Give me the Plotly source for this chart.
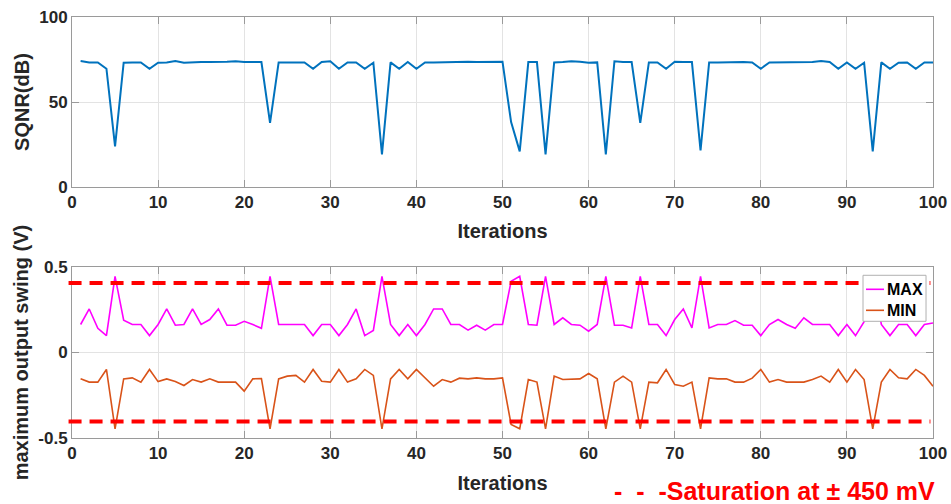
import plotly.graph_objects as go

# ---------------- data ----------------
iterations = list(range(1, 101))

sqnr_db = [74.1, 73.3, 73.3, 69.6, 23.9, 73.1, 73.3, 73.3, 69.6, 73.1,
           73.3, 74.1, 73.1, 73.5, 73.5, 73.5, 73.5, 73.7, 74.0, 73.5,
           73.5, 73.5, 37.8, 73.3, 73.3, 73.3, 73.3, 69.6, 73.5, 74.0,
           69.6, 73.3, 73.3, 69.6, 73.1, 19.2, 73.3, 69.6, 73.5, 69.6,
           73.3, 73.3, 73.5, 73.5, 73.7, 73.7, 73.5, 73.5, 73.7, 73.7,
           38.2, 21.0, 73.5, 73.5, 19.2, 73.3, 73.5, 74.0, 73.7, 73.1,
           73.3, 19.2, 74.0, 73.5, 73.5, 37.8, 73.3, 73.3, 69.6, 73.7,
           73.5, 73.5, 21.6, 73.3, 73.3, 73.5, 73.7, 73.5, 73.3, 69.6,
           73.3, 73.3, 73.5, 73.5, 73.7, 73.5, 74.1, 73.5, 69.6, 73.3,
           69.6, 73.1, 21.0, 73.3, 69.6, 73.1, 73.3, 69.6, 73.3, 73.3]

max_swing = [0.164, 0.255, 0.142, 0.099, 0.446, 0.189, 0.164, 0.164, 0.099, 0.164,
             0.255, 0.160, 0.164, 0.255, 0.164, 0.193, 0.255, 0.160, 0.160, 0.183,
             0.164, 0.142, 0.446, 0.164, 0.164, 0.164, 0.164, 0.099, 0.164, 0.164,
             0.099, 0.164, 0.255, 0.099, 0.129, 0.446, 0.164, 0.099, 0.164, 0.099,
             0.164, 0.255, 0.255, 0.164, 0.164, 0.131, 0.160, 0.131, 0.164, 0.164,
             0.417, 0.446, 0.164, 0.160, 0.446, 0.164, 0.203, 0.164, 0.160, 0.125,
             0.164, 0.446, 0.160, 0.160, 0.144, 0.446, 0.164, 0.164, 0.099, 0.193,
             0.255, 0.144, 0.446, 0.144, 0.164, 0.164, 0.187, 0.160, 0.160, 0.099,
             0.164, 0.193, 0.164, 0.142, 0.203, 0.164, 0.164, 0.164, 0.099, 0.164,
             0.099, 0.180, 0.446, 0.164, 0.099, 0.164, 0.164, 0.099, 0.164, 0.173]

min_swing = [-0.154, -0.173, -0.173, -0.099, -0.446, -0.154, -0.148, -0.173, -0.099, -0.170,
             -0.154, -0.170, -0.193, -0.158, -0.173, -0.154, -0.173, -0.173, -0.173, -0.226,
             -0.154, -0.152, -0.446, -0.154, -0.138, -0.134, -0.173, -0.099, -0.168, -0.173,
             -0.099, -0.173, -0.154, -0.099, -0.134, -0.446, -0.154, -0.099, -0.154, -0.099,
             -0.148, -0.197, -0.158, -0.173, -0.150, -0.154, -0.148, -0.154, -0.154, -0.148,
             -0.421, -0.446, -0.158, -0.173, -0.446, -0.138, -0.158, -0.158, -0.154, -0.123,
             -0.154, -0.446, -0.173, -0.138, -0.173, -0.446, -0.173, -0.177, -0.099, -0.187,
             -0.197, -0.173, -0.446, -0.148, -0.154, -0.154, -0.173, -0.173, -0.150, -0.099,
             -0.173, -0.158, -0.173, -0.173, -0.173, -0.158, -0.138, -0.173, -0.099, -0.173,
             -0.099, -0.158, -0.446, -0.173, -0.099, -0.148, -0.154, -0.099, -0.134, -0.197]

saturation_levels = [0.407, -0.403]
legend_names = ["MAX", "MIN"]
x_ticks = [0, 10, 20, 30, 40, 50, 60, 70, 80, 90, 100]
sqnr_ticks = [0, 50, 100]
swing_ticks = [-0.5, 0, 0.5]
swing_tick_text = ["-0.5", "0", "0.5"]

# ---------------- style ----------------
FONT = "Liberation Sans, Arial, sans-serif"
TXT = "#262626"
AX = "#9a9a9a"
GRID = "#e3e3e3"
C_SQNR = "#0072BD"
C_MAX = "#FF00FF"
C_MIN = "#D95319"

fig = go.Figure()
fig.add_trace(go.Scatter(x=iterations, y=sqnr_db, mode="lines", xaxis="x", yaxis="y",
                         line=dict(color=C_SQNR, width=2), showlegend=False))
fig.add_trace(go.Scatter(x=iterations, y=max_swing, mode="lines", xaxis="x2", yaxis="y2",
                         name=legend_names[0], line=dict(color=C_MAX, width=1.6), showlegend=False))
fig.add_trace(go.Scatter(x=iterations, y=min_swing, mode="lines", xaxis="x2", yaxis="y2",
                         name=legend_names[1], line=dict(color=C_MIN, width=1.6), showlegend=False))

axis_common = dict(
    showline=True, linecolor=AX, linewidth=1, mirror="ticks",
    ticks="inside", ticklen=7, tickcolor=AX, tickwidth=1,
    showgrid=True, gridcolor=GRID, gridwidth=1, zeroline=False,
    automargin=False, ticklabeloverflow="allow",
    tickfont=dict(family=FONT, size=17, color=TXT, weight="bold"),
)

title_font = dict(family=FONT, size=20, color=TXT, weight="bold")

fig.update_layout(
    width=951, height=504,
    margin=dict(l=72, r=18, t=17, b=66),
    paper_bgcolor="white", plot_bgcolor="white",
    xaxis=dict(domain=[0, 1], anchor="y", range=[0, 100], tickvals=x_ticks,
               title=dict(text="Iterations", font=title_font, standoff=12), **axis_common),
    yaxis=dict(domain=[0.596, 1], anchor="x", range=[0, 100], tickvals=sqnr_ticks,
               title=dict(text="SQNR(dB)", font=title_font, standoff=4), **axis_common),
    xaxis2=dict(domain=[0, 1], anchor="y2", range=[0, 100], tickvals=x_ticks,
                title=dict(text="Iterations", font=title_font, standoff=13), **axis_common),
    yaxis2=dict(domain=[0, 0.406], anchor="x2", range=[-0.5, 0.5], tickvals=swing_ticks,
                ticktext=swing_tick_text,
                title=dict(text="maximum output swing (V)", font=title_font, standoff=4),
                **axis_common),
)

shapes = []
# saturation dashed lines
for lvl in saturation_levels:
    shapes.append(dict(type="line", xref="paper", yref="y2", x0=-0.004, x1=0.997,
                       y0=lvl, y1=lvl, layer="above",
                       line=dict(color="#FF0000", width=4, dash="13px,8px")))
# manual legend box
shapes.append(dict(type="rect", xref="paper", yref="paper", x0=0.9187, x1=0.9919,
                   y0=0.2772, y1=0.3865, layer="above",
                   fillcolor="white", line=dict(color="#b0b0b0", width=1)))
legend_colors = [C_MAX, C_MIN]
legend_y = [0.3532, 0.3033]
for col, ly in zip(legend_colors, legend_y):
    shapes.append(dict(type="line", xref="paper", yref="paper", x0=0.9222, x1=0.9431,
                       y0=ly, y1=ly, layer="above", line=dict(color=col, width=1.6)))
fig.update_layout(shapes=shapes)

annotations = []
for name, ly in zip(legend_names, legend_y):
    annotations.append(dict(text=name, xref="paper", yref="paper", x=0.9443, y=ly,
                            xanchor="left", yanchor="middle", showarrow=False,
                            font=dict(family=FONT, size=16, color="black", weight="bold")))
annotations.append(dict(text="-\u00a0\u00a0-\u00a0\u00a0-Saturation at ± 450 mV",
                        xref="paper", yref="paper",
                        x=1.0046, y=-0.127, xanchor="right", yanchor="middle", showarrow=False,
                        font=dict(family=FONT, size=25, color="#FF0000", weight="bold")))
fig.update_layout(annotations=annotations)

# remove the browser's default 8 px page margin so the figure fills the window exactly
fig.write_html("out.html",
               config={"displayModeBar": False},
               post_script="document.body.style.margin='0';"
                           "document.documentElement.style.overflow='hidden';")
